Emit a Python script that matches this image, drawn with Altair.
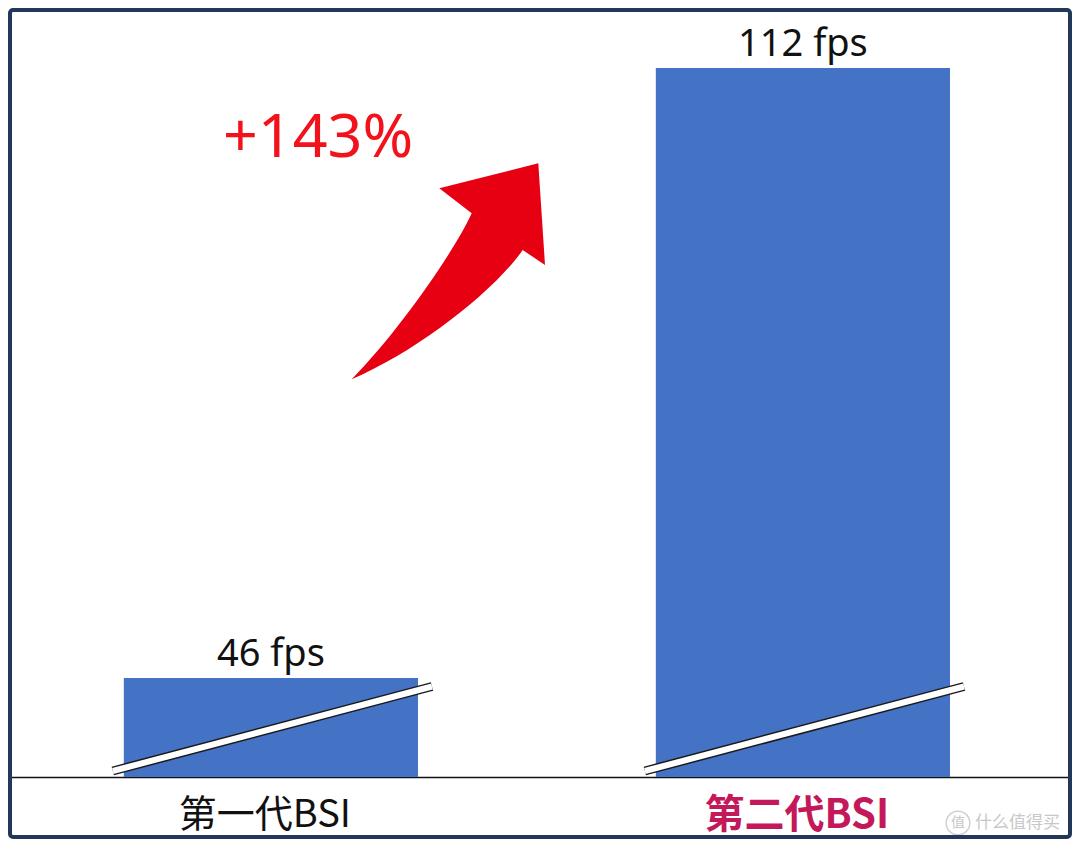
import altair as alt
import pandas as pd

# ---- data ----
categories = ["第一代BSI", "第二代BSI"]
fps_values = [46, 112]
value_labels = ["46 fps", "112 fps"]
gain_label = "+" + str(int((fps_values[1] - fps_values[0]) / fps_values[0] * 100)) + "%"
watermark = "什么值得买"

# broken axis: the bars start from a hidden base value
y_base = 35.29
y_top = 118.49

W, H = 1064, 769
BAR = "#4472C4"

df = pd.DataFrame({"cat": categories, "fps": fps_values, "label": value_labels})
one = pd.DataFrame({"a": [0]})

xscale = alt.Scale(domain=categories, paddingInner=0.447, paddingOuter=0.2235, align=0.487)
yscale = alt.Scale(domain=[y_base, y_top], zero=False, nice=False)

x_axis = alt.Axis(
    title=None, ticks=False, tickSize=0, labelAngle=0, grid=False,
    domainColor="#111111", domainWidth=1.5,
    labelPadding=38, labelBaseline="middle", labelOffset=-6, labelLimit=0,
    labelFont="Noto Sans CJK SC",
    labelFontSize={"expr": "datum.value == '第二代BSI' ? 40 : 38"},
    labelFontWeight={"expr": "datum.value == '第二代BSI' ? 'bold' : 'normal'"},
    labelColor={"expr": "datum.value == '第二代BSI' ? '#C3185A' : '#111111'"},
)

bars = alt.Chart(df).mark_bar(color=BAR).encode(
    x=alt.X("cat:N", scale=xscale, axis=x_axis, sort=categories),
    y=alt.Y("fps:Q", scale=yscale, axis=None),
    y2=alt.datum(y_base),
)

values = alt.Chart(df).mark_text(
    baseline="alphabetic", dy=-12, fontSize=38, font="Noto Sans", color="#111111"
).encode(
    x=alt.X("cat:N", title=None, sort=categories),
    y=alt.Y("fps:Q"),
    text="label:N",
)

brk_outer = alt.Chart(df).mark_rule(
    color="#1a1a1a", strokeWidth=9, xOffset=-11, x2Offset=14
).encode(
    x=alt.X("cat:N", bandPosition=0, title=None, sort=categories),
    x2=alt.X2("cat", bandPosition=1),
    y=alt.value(763), y2=alt.value(678.5),
)
brk_inner = alt.Chart(df).mark_rule(
    color="white", strokeWidth=6, xOffset=-11, x2Offset=14
).encode(
    x=alt.X("cat:N", bandPosition=0, title=None, sort=categories),
    x2=alt.X2("cat", bandPosition=1),
    y=alt.value(763), y2=alt.value(678.5),
)

arrow_path = (
    "M 23.35 -58 L -9.05 -83 L 89.95 -108 L 96.65 -6.3 L 74.35 -21.3 "
    "C 46.65 18.7 -28.35 78.7 -96.65 108 "
    "C -48.35 58.7 6.65 -21.3 23.35 -58 Z"
)
arrow = alt.Chart(one).mark_point(
    shape=arrow_path, size=4, filled=True, fill="#E60012", opacity=1, strokeWidth=0
).encode(x=alt.value(440.35), y=alt.value(263.3))

gain = alt.Chart(one).mark_text(
    text=gain_label, fontSize=61, font="Noto Sans", color="#F2121C",
    align="center", baseline="alphabetic"
).encode(x=alt.value(310), y=alt.value(149))

border = alt.Chart(one).mark_rect(
    fill="white", fillOpacity=0, stroke="#22385A", strokeWidth=4, cornerRadius=3
).encode(x=alt.value(2), x2=alt.value(W - 2), y=alt.value(2), y2=alt.value(829))

wm_circle = alt.Chart(one).mark_point(
    shape="circle", size=560, filled=False, stroke="#d0d0d0", strokeWidth=1.5, opacity=1
).encode(x=alt.value(950), y=alt.value(815))
wm_zhi = alt.Chart(one).mark_text(
    text="值", fontSize=14, font="Noto Sans CJK SC", color="#c8c8c8", baseline="middle"
).encode(x=alt.value(950), y=alt.value(815))
wm_text = alt.Chart(one).mark_text(
    text=watermark, fontSize=17, font="Noto Sans CJK SC", color="#c8c8c8",
    baseline="middle", align="left"
).encode(x=alt.value(967), y=alt.value(815))

chart = alt.layer(
    bars, values, brk_outer, brk_inner, arrow, gain, wm_circle, wm_zhi, wm_text, border
).properties(
    width=W, height=H,
    padding={"left": 0, "top": 0, "right": 0, "bottom": 62},
    autosize=alt.AutoSizeParams(type="none"),
    background="white",
).configure_view(stroke=None)

chart.save("out.html", embed_options={"renderer": "svg", "actions": False})
